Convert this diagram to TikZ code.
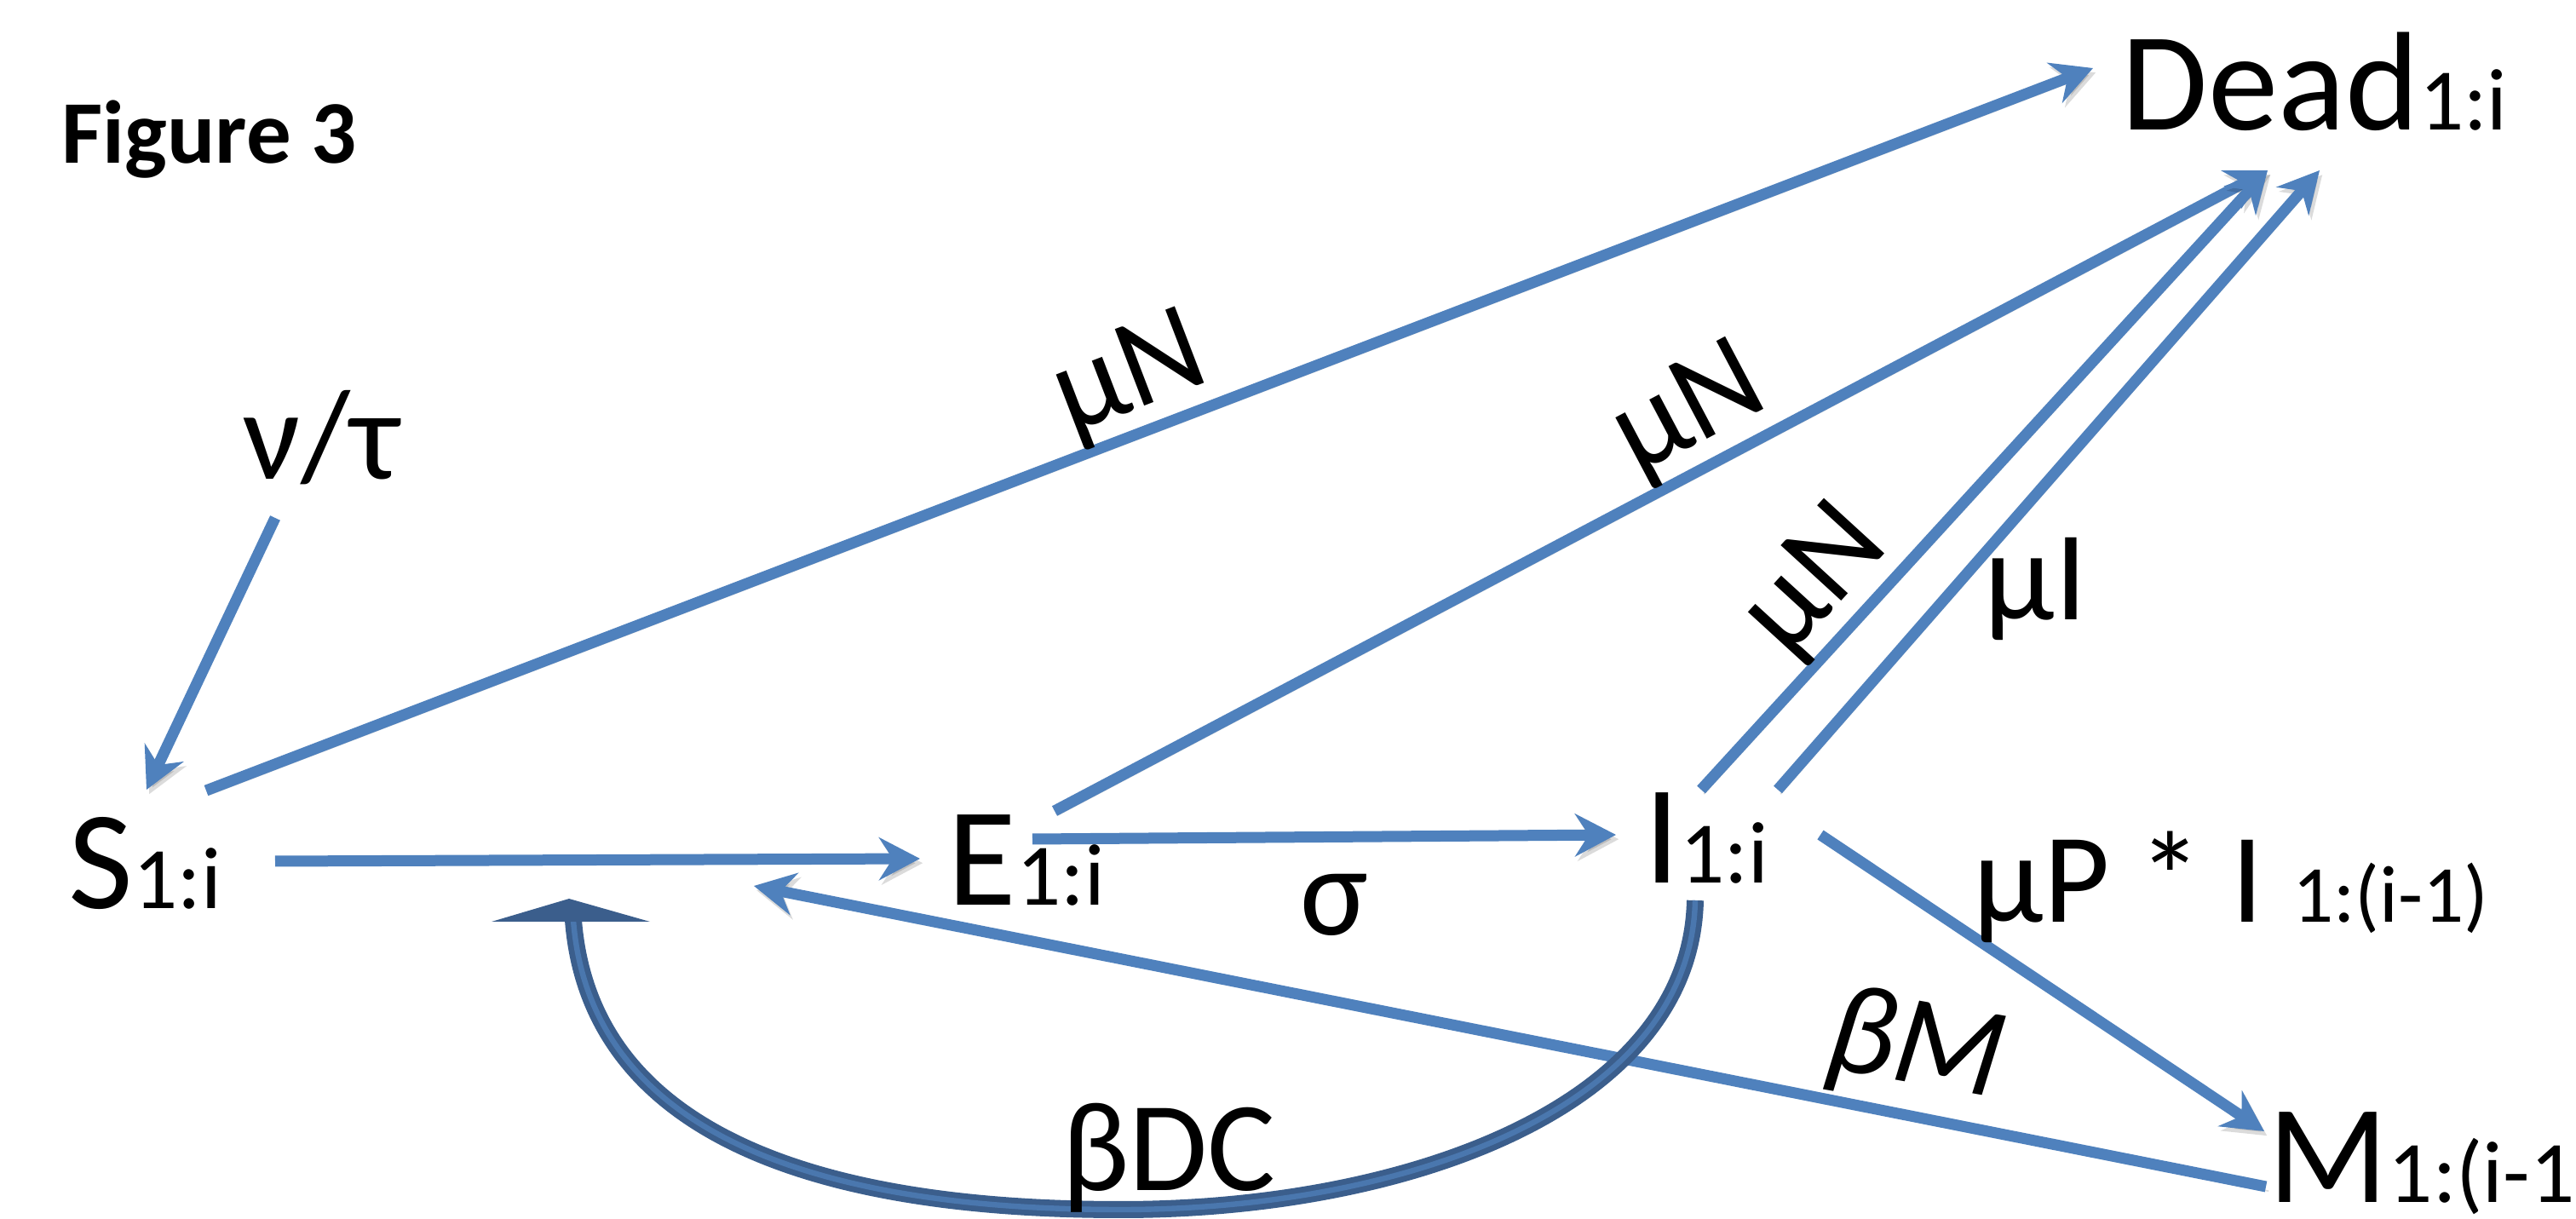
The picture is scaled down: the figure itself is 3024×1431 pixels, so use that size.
\documentclass[tikz,border=0pt]{standalone}
\usepackage{fontspec}
\setmainfont{Carlito}
\usetikzlibrary{arrows.meta}
\definecolor{lineblue}{HTML}{4F81BD}
\definecolor{darkblue}{HTML}{3B5E8C}
\definecolor{midblue}{HTML}{4A77AE}
\newcommand\msub[1]{{\fontsize{25.75pt}{30pt}\selectfont #1}}
\newcommand\lsub[1]{{\fontsize{23.75pt}{28pt}\selectfont #1}}
\begin{document}
\begin{tikzpicture}[x=0.25pt,y=-0.25pt,
  conn/.style={draw=lineblue, line width=3.25pt, -{Stealth[length=12pt,width=12.5pt,inset=4pt]},
    preaction={draw=black, opacity=0.14, transform canvas={shift={(0.8pt,-1.3pt)}}}},
  main/.style={inner sep=0pt, anchor=base west, font=\fontsize{41.25pt}{48pt}\selectfont},
  lbl/.style={inner sep=0pt, font=\fontsize{37.5pt}{44pt}\selectfont},
  curvedark/.style={draw=darkblue, line width=5pt},
  curvelight/.style={draw=midblue, line width=1.6pt},
]
\useasboundingbox (0,0) rectangle (3024,1431);
\fill[white] (0,0) rectangle (3024,1431);

% compartments
\node[inner sep=0pt, anchor=base west, font=\bfseries\fontsize{26.25pt}{32pt}\selectfont] (fig) at (72,192) {Figure 3};
\node[main] (dead) at (2490,153) {Dead\msub{1:i}};
\node[main] (S) at (80,1067) {S\msub{1:i}};
\node[main] (E) at (1112,1063) {E\msub{1:i}};
\node[main] (I) at (1930,1037) {I\msub{1:i}};
\node[main] (M) at (2662,1412) {M\msub{1:(i-1}};
\node[lbl, anchor=base west] (nu) at (285,563) {ν/τ};

% connector ends
\coordinate (nuA) at (323,608);   \coordinate (nuB) at (172,927);
\coordinate (sdA) at (242,928);   \coordinate (sdB) at (2457,80);
\coordinate (seA) at (323,1011);  \coordinate (seB) at (1080,1008);
\coordinate (edA) at (1238,952);  \coordinate (edB) at (2662,200);
\coordinate (eiA) at (1212,985);  \coordinate (eiB) at (1897,980);
\coordinate (idA) at (1997,927);  \coordinate (idB) at (2662,200);
\coordinate (iiA) at (2087,927);  \coordinate (iiB) at (2723,200);
\coordinate (imA) at (2137,980);  \coordinate (imB) at (2658,1328);
\coordinate (meA) at (2660,1393); \coordinate (meB) at (885,1040);
\coordinate (dcA) at (1990,1057); \coordinate (dcM) at (1316,1420); \coordinate (dcB) at (673,1080);

% arrows
\draw[conn] (nuA) -- (nuB);
\draw[conn] (sdA) -- (sdB);
\draw[conn] (seA) -- (seB);
\draw[conn] (edA) -- (edB);
\draw[conn] (eiA) -- (eiB);
\draw[conn] (idA) -- (idB);
\draw[conn] (iiA) -- (iiB);
\draw[conn] (imA) -- (imB);
\draw[conn] (meA) -- (meB);

% beta DC curved feedback
\draw[curvedark] (dcA) .. controls (1985,1300) and (1650,1420) .. (dcM) .. controls (900,1420) and (690,1300) .. (dcB);
\draw[curvelight] (dcA) .. controls (1985,1300) and (1650,1420) .. (dcM) .. controls (900,1420) and (690,1300) .. (dcB);
\fill[darkblue] (668,1055) -- (763,1082) -- (577,1082) -- cycle;

% labels
\node[lbl, rotate=20.95, anchor=base] (l1) at (1340,478) {μN};
\node[lbl, rotate=27.84, anchor=base] (l2) at (2001,517) {μN};
\node[lbl, rotate=47.55, anchor=base] (l3) at (2159,708) {μN};
\node[lbl, anchor=base] (l4) at (2390,728) {μI};
\node[lbl, anchor=base] (l5) at (1566,1098) {σ};
\node[lbl, anchor=base] (l6) at (1372,1398) {βDC};
\node[lbl, anchor=base west] (l7) at (2316,1083) {μP * I \lsub{1:(i-1)}};
\node[lbl, rotate=-10, font=\fontsize{37.5pt}{44pt}\selectfont\itshape] (l8) at (2248,1233) {βM};
\end{tikzpicture}
\end{document}
